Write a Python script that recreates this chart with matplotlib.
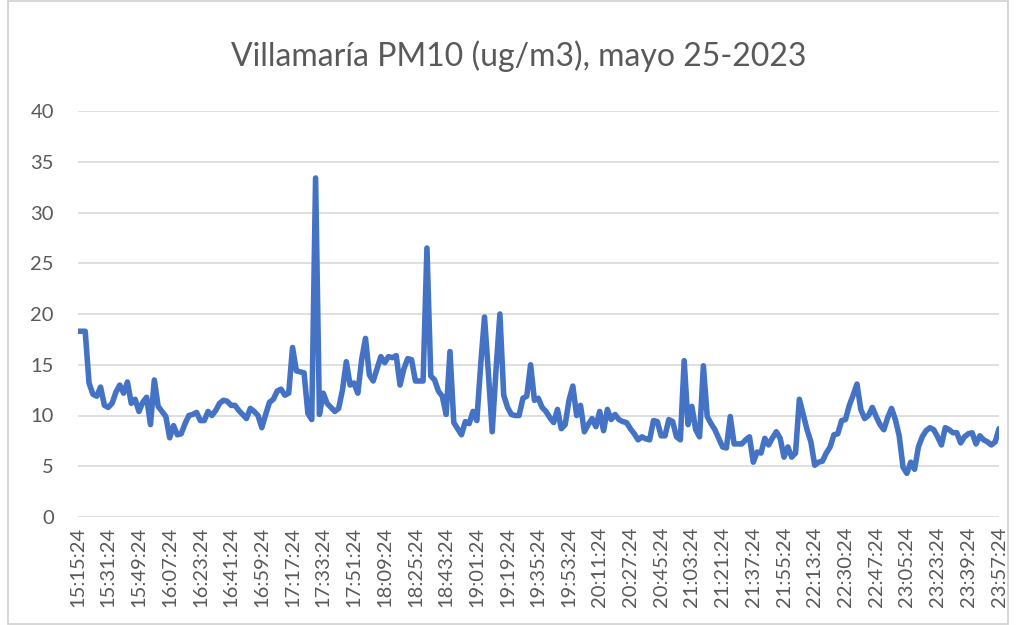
import matplotlib.pyplot as plt
from matplotlib.patches import Rectangle

plt.rcParams['font.family'] = ['Lato', 'DejaVu Sans']

# PM10 readings (ug/m3), one value per sample between 15:15:24 and 23:57:24
pm10 = [
    18.3, 18.3, 18.3, 13.2, 12.1, 11.9, 12.8, 11.0, 10.8, 11.2,
    12.3, 13.0, 12.2, 13.3, 11.2, 11.6, 10.4, 11.3, 11.8, 9.1,
    13.5, 10.9, 10.4, 9.9, 7.8, 9.0, 8.1, 8.2, 9.2, 10.0,
    10.1, 10.3, 9.5, 9.5, 10.4, 10.0, 10.5, 11.2, 11.5, 11.4,
    11.0, 11.0, 10.5, 10.1, 9.7, 10.7, 10.4, 10.0, 8.8, 10.1,
    11.3, 11.6, 12.4, 12.6, 12.0, 12.2, 16.7, 14.4, 14.3, 14.2,
    10.2, 9.6, 33.4, 10.1, 12.2, 11.2, 10.8, 10.4, 10.7, 12.5,
    15.3, 13.0, 13.2, 12.2, 15.5, 17.6, 14.0, 13.4, 14.6, 15.8,
    15.2, 15.8, 15.7, 15.9, 13.0, 14.6, 15.6, 15.5, 13.4, 13.4,
    13.4, 26.5, 13.9, 13.5, 12.4, 11.9, 10.1, 16.3, 9.3, 8.7,
    8.1, 9.4, 9.2, 10.4, 9.5, 15.0, 19.7, 14.2, 8.4, 14.5,
    20.0, 12.0, 10.8, 10.1, 10.0, 10.0, 11.7, 11.9, 15.0, 11.5,
    11.7, 10.8, 10.4, 9.8, 9.3, 10.6, 8.7, 9.1, 11.5, 12.9,
    10.0, 11.0, 8.4, 9.1, 9.7, 8.9, 10.4, 8.5, 10.6, 9.6,
    10.1, 9.6, 9.4, 9.3, 8.7, 8.2, 7.6, 7.9, 7.7, 7.6,
    9.5, 9.4, 8.0, 8.0, 9.6, 9.4, 7.9, 7.6, 15.4, 9.1,
    10.9, 8.6, 7.9, 14.9, 9.9, 9.2, 8.6, 7.75, 6.9, 6.8,
    9.9, 7.2, 7.2, 7.2, 7.6, 7.9, 5.4, 6.4, 6.3, 7.75,
    7.1, 7.8, 8.4, 7.75, 5.9, 6.9, 5.9, 6.3, 11.6, 10.1,
    8.6, 7.4, 5.1, 5.4, 5.5, 6.3, 6.9, 8.1, 8.2, 9.5,
    9.6, 11.0, 12.0, 13.1, 10.6, 9.7, 10.0, 10.8, 9.9, 9.1,
    8.6, 9.8, 10.7, 9.6, 8.0, 4.9, 4.3, 5.4, 4.7, 6.9,
    7.9, 8.5, 8.8, 8.6, 7.9, 7.1, 8.8, 8.6, 8.3, 8.3,
    7.3, 7.9, 8.2, 8.3, 7.2, 8.0, 7.6, 7.4, 7.1, 7.4,
    8.7,
]

# every 8th sample carries a time label
tick_labels = [
    '15:15:24', '15:31:24', '15:49:24', '16:07:24', '16:23:24', '16:41:24',
    '16:59:24', '17:17:24', '17:33:24', '17:51:24', '18:09:24', '18:25:24',
    '18:43:24', '19:01:24', '19:19:24', '19:35:24', '19:53:24', '20:11:24',
    '20:27:24', '20:45:24', '21:03:24', '21:21:24', '21:37:24', '21:55:24',
    '22:13:24', '22:30:24', '22:47:24', '23:05:24', '23:23:24', '23:39:24',
    '23:57:24',
]
label_step = 8

text_color = '#595959'
grid_color = '#D9D9D9'

fig = plt.figure(figsize=(10.16, 6.25), dpi=100)
ax = fig.add_axes([0.0763, 0.1728, 0.907, 0.6496])

ax.plot(range(len(pm10)), pm10, color='#4472C4', linewidth=4.0,
        solid_joinstyle='round', solid_capstyle='round', zorder=3)

ax.set_xlim(0, len(pm10) - 1)
ax.set_ylim(0, 40)
ax.set_yticks(range(0, 41, 5))
ax.set_xticks(range(0, len(pm10), label_step))
ax.set_xticklabels(tick_labels, rotation=90)

ax.grid(axis='y', color=grid_color, linewidth=1.2)
ax.set_axisbelow(True)
for side in ax.spines.values():
    side.set_visible(False)
ax.tick_params(axis='both', length=0, colors=text_color, labelsize=14.5)
ax.tick_params(axis='x', pad=7)
ax.tick_params(axis='y', pad=17)

fig.text(0.511, 0.91, 'Villamaría PM10 (ug/m3), mayo 25-2023',
         ha='center', va='center', fontsize=23, color=text_color)

# chart frame
fig.patches.append(Rectangle((0.008, 0.002), 0.984, 0.996, transform=fig.transFigure,
                             fill=False, edgecolor='#D0D0D0', linewidth=1.2))

fig.savefig('out.png', dpi=100)
